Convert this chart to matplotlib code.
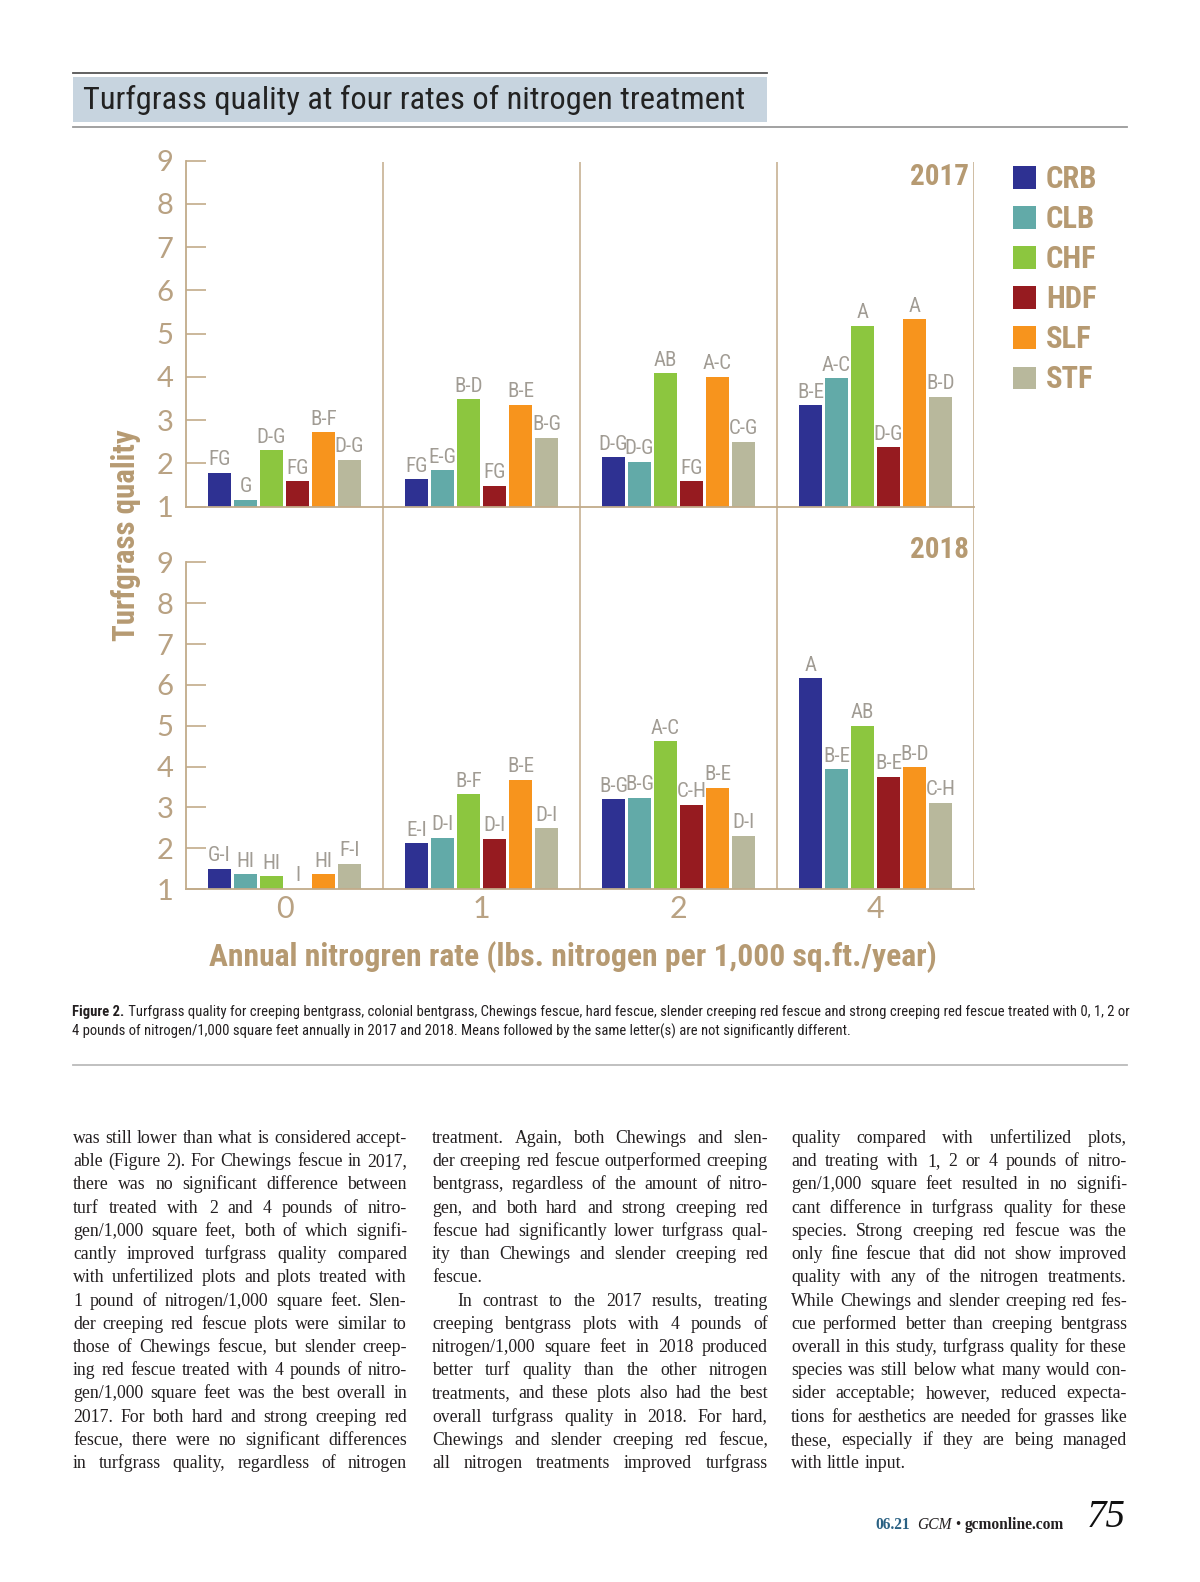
import matplotlib
matplotlib.use('Agg')
import matplotlib.pyplot as plt
from matplotlib import font_manager as fm
from matplotlib.patches import Rectangle
from matplotlib.lines import Line2D
import numpy as np

W, H = 1200, 1582

# ---------------- data ----------------
groups = ['0', '1', '2', '4']
species = ['CRB', 'CLB', 'CHF', 'HDF', 'SLF', 'STF']
colors = ['#2E3192', '#62AAA8', '#8CC63F', '#961B20', '#F7941D', '#B8B89C']

crb_2017 = [1.79, 1.63, 2.14, 3.34]
clb_2017 = [1.16, 1.84, 2.04, 3.97]
chf_2017 = [2.30, 3.49, 4.09, 5.18]
hdf_2017 = [1.59, 1.48, 1.59, 2.38]
slf_2017 = [2.72, 3.36, 4.00, 5.34]
stf_2017 = [2.09, 2.60, 2.50, 3.54]

crb_2017_let = ['FG', 'FG', 'D-G', 'B-E']
clb_2017_let = ['G', 'E-G', 'D-G', 'A-C']
chf_2017_let = ['D-G', 'B-D', 'AB', 'A']
hdf_2017_let = ['FG', 'FG', 'FG', 'D-G']
slf_2017_let = ['B-F', 'B-E', 'A-C', 'A']
stf_2017_let = ['D-G', 'B-G', 'C-G', 'B-D']

crb_2018 = [1.50, 2.12, 3.20, 6.16]
clb_2018 = [1.36, 2.26, 3.24, 3.94]
chf_2018 = [1.32, 3.33, 4.62, 5.00]
hdf_2018 = [1.01, 2.24, 3.07, 3.75]
slf_2018 = [1.36, 3.68, 3.48, 3.99]
stf_2018 = [1.62, 2.49, 2.31, 3.12]

crb_2018_let = ['G-I', 'E-I', 'B-G', 'A']
clb_2018_let = ['HI', 'D-I', 'B-G', 'B-E']
chf_2018_let = ['HI', 'B-F', 'A-C', 'AB']
hdf_2018_let = ['I', 'D-I', 'C-H', 'B-E']
slf_2018_let = ['HI', 'B-E', 'B-E', 'B-D']
stf_2018_let = ['F-I', 'D-I', 'D-I', 'C-H']

yticks = [1, 2, 3, 4, 5, 6, 7, 8, 9]

data_2017 = [crb_2017, clb_2017, chf_2017, hdf_2017, slf_2017, stf_2017]
lets_2017 = [crb_2017_let, clb_2017_let, chf_2017_let, hdf_2017_let, slf_2017_let, stf_2017_let]
data_2018 = [crb_2018, clb_2018, chf_2018, hdf_2018, slf_2018, stf_2018]
lets_2018 = [crb_2018_let, clb_2018_let, chf_2018_let, hdf_2018_let, slf_2018_let, stf_2018_let]

title_text = 'Turfgrass quality at four rates of nitrogen treatment'
caption_bold = 'Figure 2.'
caption_1 = (' Turfgrass quality for creeping bentgrass, colonial bentgrass, Chewings fescue, hard fescue, '
             'slender creeping red fescue and strong creeping red fescue treated with 0, 1, 2 or')
caption_2 = ('4 pounds of nitrogen/1,000 square feet annually in 2017 and 2018. Means followed by the same '
             'letter(s) are not significantly different.')

col1 = [
    'was still lower than what is considered accept-',
    'able (Figure 2). For Chewings fescue in 2017,',
    'there was no significant difference between',
    'turf treated with 2 and 4 pounds of nitro-',
    'gen/1,000 square feet, both of which signifi-',
    'cantly improved turfgrass quality compared',
    'with unfertilized plots and plots treated with',
    '1 pound of nitrogen/1,000 square feet. Slen-',
    'der creeping red fescue plots were similar to',
    'those of Chewings fescue, but slender creep-',
    'ing red fescue treated with 4 pounds of nitro-',
    'gen/1,000 square feet was the best overall in',
    '2017. For both hard and strong creeping red',
    'fescue, there were no significant differences',
    'in turfgrass quality, regardless of nitrogen',
]
col2 = [
    'treatment. Again, both Chewings and slen-',
    'der creeping red fescue outperformed creeping',
    'bentgrass, regardless of the amount of nitro-',
    'gen, and both hard and strong creeping red',
    'fescue had significantly lower turfgrass qual-',
    'ity than Chewings and slender creeping red',
    'fescue.',
    'In contrast to the 2017 results, treating',
    'creeping bentgrass plots with 4 pounds of',
    'nitrogen/1,000 square feet in 2018 produced',
    'better turf quality than the other nitrogen',
    'treatments, and these plots also had the best',
    'overall turfgrass quality in 2018. For hard,',
    'Chewings and slender creeping red fescue,',
    'all nitrogen treatments improved turfgrass',
]
col3 = [
    'quality compared with unfertilized plots,',
    'and treating with 1, 2 or 4 pounds of nitro-',
    'gen/1,000 square feet resulted in no signifi-',
    'cant difference in turfgrass quality for these',
    'species. Strong creeping red fescue was the',
    'only fine fescue that did not show improved',
    'quality with any of the nitrogen treatments.',
    'While Chewings and slender creeping red fes-',
    'cue performed better than creeping bentgrass',
    'overall in this study, turfgrass quality for these',
    'species was still below what many would con-',
    'sider acceptable; however, reduced expecta-',
    'tions for aesthetics are needed for grasses like',
    'these, especially if they are being managed',
    'with little input.',
]
# lines that end a paragraph (not justified) and lines that are indented
col2_ragged = [6]
col2_indent = [7]
col3_ragged = [14]

# ---------------- fonts ----------------
def pick(*names):
    for n in names:
        try:
            fm.findfont(fm.FontProperties(family=n), fallback_to_default=False)
            return n
        except Exception:
            continue
    return 'DejaVu Sans'

COND = pick('Liberation Sans Narrow', 'DejaVu Sans Condensed', 'Roboto Condensed', 'Roboto')
LIGHT = pick('Lato', 'Roboto', 'Open Sans', 'DejaVu Sans')
SANS = pick('Liberation Sans', 'Roboto', 'DejaVu Sans')
SERIF = pick('Liberation Serif', 'DejaVu Serif')

LINE = '#C2AB8A'
TICKC = '#B9A283'
TAN = '#B69A72'
LETC = '#A19C94'
TXT = '#231F20'

fig = plt.figure(figsize=(W / 100, H / 100), dpi=100)
fig.patch.set_facecolor('white')
R = fig.canvas.get_renderer()


def fx(px):
    return px / W


def fy(py):
    return 1 - py / H


# ---------------- axes ----------------
X0, X1 = 186, 974
TOP_T, TOP_B = 160.7, 506.7
BOT_T, BOT_B = 562.3, 889.2

ax_top = fig.add_axes([fx(X0), fy(TOP_B), (X1 - X0) / W, (TOP_B - TOP_T) / H])
ax_bot = fig.add_axes([fx(X0), fy(BOT_B), (X1 - X0) / W, (BOT_B - BOT_T) / H])
ax_ov = fig.add_axes([fx(X0), fy(BOT_B), (X1 - X0) / W, (BOT_B - 161.5) / H])
ax_ov.set_xlim(-0.5, 3.5)
ax_ov.set_ylim(0, 1)
ax_ov.axis('off')
for xv in [0.5, 1.5, 2.5, 3.5]:
    ax_ov.axvline(xv, color=LINE, lw=1.1)

pitch = 0.132
bw = 0.117
xg = np.arange(len(groups))

handles = []
for ax, data, lets, year, ybase in [(ax_top, data_2017, lets_2017, '2017', 185),
                                    (ax_bot, data_2018, lets_2018, '2018', 558)]:
    ax.set_xlim(-0.5, 3.5)
    ax.set_ylim(1, 9)
    ax.patch.set_alpha(0)
    for s in ['top', 'right']:
        ax.spines[s].set_visible(False)
    for s in ['left', 'bottom']:
        ax.spines[s].set_color(LINE)
        ax.spines[s].set_linewidth(1.3)
    ax.set_yticks(yticks, [str(t) for t in yticks], fontfamily=LIGHT, fontweight='normal',
                  fontsize=21, color=TICKC)
    ax.tick_params(axis='y', direction='in', length=14.5, width=1.2, color=LINE, pad=9)
    hs = []
    for i, (vals, lab, c) in enumerate(zip(data, lets, colors)):
        pos = xg + (i - 2.5) * pitch
        b = ax.bar(pos, np.array(vals) - 1, bottom=1, width=bw, color=c, edgecolor='none',
                   label=species[i])
        hs.append(b)
        for p, v, l in zip(pos, vals, lab):
            ax.annotate(l, (p, v), xytext=(0, 2.5), textcoords='offset points',
                        ha='center', va='bottom', fontsize=15, family=COND, color=LETC)
    handles = handles or hs
    fig.text(fx(969), fy(ybase), year, ha='right', va='baseline', fontsize=21,
             family=COND, fontweight='bold', color=TAN)

ax_top.set_xticks([])
ax_bot.set_xticks(xg, groups, fontfamily=LIGHT, fontweight='normal', fontsize=22, color=TICKC)
ax_bot.tick_params(axis='x', length=0, pad=4)

# legend
leg = fig.legend(handles=handles, labels=species, loc='upper left',
                 bbox_to_anchor=(fx(1013), fy(164)), frameon=False,
                 prop={'family': COND, 'weight': 'bold', 'size': 22},
                 handlelength=0.75, handleheight=0.75, handletextpad=0.33,
                 labelspacing=0.33, borderpad=0, borderaxespad=0)
for t in leg.get_texts():
    t.set_color(TAN)


def fit(t, target):
    bb = t.get_window_extent(R)
    t.set_fontsize(t.get_fontsize() * target / bb.width)
    return t


# axis titles
xt = fig.text(fx(573), fy(966), 'Annual nitrogren rate (lbs. nitrogen per 1,000 sq.ft./year)',
              ha='center', va='baseline', fontsize=25, family=COND, fontweight='bold', color=TAN)
fit(xt, 728)
yt = fig.text(fx(126), fy(535), 'Turfgrass quality', ha='center', va='center', rotation=90,
              fontsize=22, family=COND, fontweight='bold', color=TAN)
bb = yt.get_window_extent(R)
yt.set_fontsize(yt.get_fontsize() * 212 / bb.height)

# ---------------- header ----------------
fig.add_artist(Rectangle((fx(72.5), fy(122.3)), (767 - 72.5) / W, (122.3 - 77.3) / H,
                         transform=fig.transFigure, facecolor='#C7D4DF', edgecolor='none'))
fig.add_artist(Line2D([fx(72.5), fx(767)], [fy(73.3), fy(73.3)], color='#555555', lw=1.3))
fig.add_artist(Line2D([fx(72.5), fx(1127)], [fy(126.7), fy(126.7)], color='#9A9A9A', lw=1.3))
tt = fig.text(fx(83.3), fy(109.3), title_text, ha='left', va='baseline', fontsize=22,
              family=COND, color='#222222')
fit(tt, 662)

# ---------------- caption ----------------
cap_size = 11
cb = fig.text(fx(72.5), fy(1016), caption_bold, ha='left', va='baseline', fontsize=cap_size,
              family=COND, fontweight='bold', color=TXT)
c1 = fig.text(fx(72.5), fy(1016), caption_1, ha='left', va='baseline', fontsize=cap_size,
              family=COND, color=TXT)
wtot = cb.get_window_extent(R).width + c1.get_window_extent(R).width
cap_size = cap_size * (1120 - 72.5) / wtot
cb.set_fontsize(cap_size)
c1.set_fontsize(cap_size)
c1.set_x(fx(72.5 + cb.get_window_extent(R).width))
fig.text(fx(72.5), fy(1036), caption_2, ha='left', va='baseline', fontsize=cap_size,
         family=COND, color=TXT)
fig.add_artist(Line2D([fx(72.5), fx(1127)], [fy(1065), fy(1065)], color='#BBBBBB', lw=1.3))

# ---------------- body text ----------------
cols = [(col1, 73, 407, [], []), (col2, 432, 768, col2_ragged, col2_indent),
        (col3, 791, 1127, col3_ragged, [])]

probe = fig.text(0, 0, '', fontsize=14, family=SERIF)
ratio = 10
for lines, a, b, rag, ind in cols:
    for k, ln in enumerate(lines):
        if k in rag:
            continue
        probe.set_text(ln)
        w = probe.get_window_extent(R).width + (25 if k in ind else 0)
        ratio = min(ratio, (b - a) / w)
probe.remove()
BODY = 14 * ratio * 0.995

base0 = 1143.0
lstep = (1468.0 - 1143.0) / 14
space_px = 0.25 * BODY * 100 / 72
for lines, a, b, rag, ind in cols:
    for k, ln in enumerate(lines):
        yb = base0 + k * lstep
        words = ln.split(' ')
        ts = [fig.text(0, fy(yb), w, ha='left', va='baseline', fontsize=BODY, family=SERIF,
                       color=TXT) for w in words]
        ws = [t.get_window_extent(R).width for t in ts]
        x = a + (25 if k in ind else 0)
        if k in rag or len(words) == 1:
            gap = space_px
        else:
            gap = (b - x - sum(ws)) / (len(words) - 1)
        for t, wd in zip(ts, ws):
            t.set_x(fx(x))
            x += wd + gap

# ---------------- footer ----------------
parts = [('06.21', 'bold', 'normal', '#2A6183'), ('  ', 'normal', 'normal', TXT),
         ('GCM', 'normal', 'italic', TXT), (' \u2022 ', 'normal', 'normal', TXT),
         ('gcmonline.com', 'bold', 'normal', TXT)]
fts = [fig.text(0, fy(1529), s, ha='left', va='baseline', fontsize=12, family=SERIF,
                fontweight=wt, style=st, color=c) for s, wt, st, c in parts]
tot = sum(t.get_window_extent(R).width for t in fts)
sz = 12 * (1065 - 875) / tot
x = 875
for t in fts:
    t.set_fontsize(sz)
for t in fts:
    t.set_x(fx(x))
    x += t.get_window_extent(R).width
fig.text(fx(1126), fy(1527), '75', ha='right', va='baseline', fontsize=28, family=SERIF,
         style='italic', color='#111111')

fig.savefig('out.png', dpi=100, facecolor='white')
